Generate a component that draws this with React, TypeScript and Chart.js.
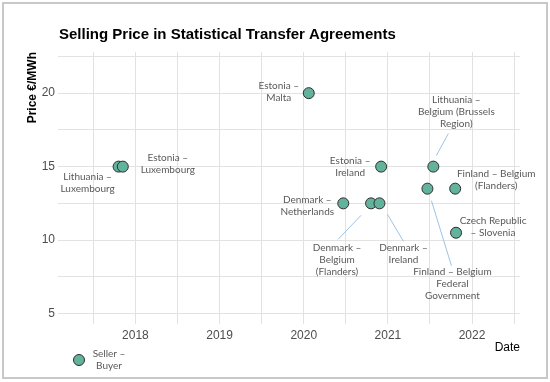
import { useEffect, useRef } from "react";
import { Chart, registerables } from "chart.js";

Chart.register(...registerables);

// ---- data ----
const agreementLabels: string[][] = [
  ["Lithuania –", "Luxembourg"],
  ["Estonia –", "Luxembourg"],
  ["Estonia –", "Malta"],
  ["Estonia –", "Ireland"],
  ["Lithuania –", "Belgium (Brussels", "Region)"],
  ["Finland – Belgium", "Federal", "Government"],
  ["Finland – Belgium", "(Flanders)"],
  ["Denmark –", "Netherlands"],
  ["Denmark –", "Belgium", "(Flanders)"],
  ["Denmark –", "Ireland"],
  ["Czech Republic", "– Slovenia"],
];
const agreementDates = [2017.8, 2017.85, 2020.06, 2020.92, 2021.54, 2021.47, 2021.8, 2020.47, 2020.8, 2020.9, 2021.81];
const sellingPrices = [15, 15, 20, 15, 15, 13.5, 13.5, 12.5, 12.5, 12.5, 10.5];

const xGridValues = [2017.5, 2018, 2018.5, 2019, 2019.5, 2020, 2020.5, 2021, 2021.5, 2022, 2022.5];
const yGridValues = [5, 7.5, 10, 12.5, 15, 17.5, 20, 22.5];

const chartTitle = "Selling Price in Statistical Transfer Agreements";
const yTitle = "Price €/MWh";
const xTitle = "Date";
const legendLines = ["Seller –", "Buyer"];

// ---- layout / style (label placement relative to each point, in px) ----
const labelPlacement = [
  { dx: -31, dy: 10 },
  { dx: 45, dy: -9 },
  { dx: -30, dy: -7 },
  { dx: -31, dy: -6 },
  { dx: 23, dy: -67 },
  { dx: 25, dy: 83 },
  { dx: 41, dy: -15 },
  { dx: -36, dy: -4 },
  { dx: -34, dy: 44 },
  { dx: 24, dy: 44 },
  { dx: 37, dy: -12 },
];
const leaderLines: (number[] | null)[] = [
  null, null, null, null,
  [15, -33, 3, -11],
  [4, 12, 24, 77],
  null, null,
  [-10, 12, -33, 36],
  [8, 11, 24, 38],
  null,
];

const POINT_FILL = "#63b39c";
const POINT_EDGE = "#2e2e2e";
const LABEL_FONT = "10px Lato";
const LABEL_COLOR = "#595959";
const LINE_H = 12;

const decorPlugin = {
  id: "decor",
  beforeDraw(chart: any) {
    const ctx = chart.ctx;
    ctx.save();
    ctx.fillStyle = "#ffffff";
    ctx.fillRect(0, 0, chart.width, chart.height);
    ctx.strokeStyle = "#c8c8c8";
    ctx.lineWidth = 2;
    ctx.strokeRect(3, 3, chart.width - 6, chart.height - 7);
    ctx.fillStyle = "#000";
    ctx.font = "bold 15px 'Liberation Sans'";
    ctx.textBaseline = "middle";
    ctx.textAlign = "left";
    ctx.fillText(chartTitle, chart.chartArea.left + 1, 35);
    ctx.restore();
  },
  beforeDatasetsDraw(chart: any) {
    const ctx = chart.ctx;
    const meta = chart.getDatasetMeta(0);
    ctx.save();
    ctx.strokeStyle = "#9dc3e6";
    ctx.lineWidth = 1;
    meta.data.forEach((el: any, i: number) => {
      const l = leaderLines[i];
      if (!l) return;
      ctx.beginPath();
      ctx.moveTo(el.x + l[0], el.y + l[1]);
      ctx.lineTo(el.x + l[2], el.y + l[3]);
      ctx.stroke();
    });
    ctx.restore();
  },
  afterDatasetsDraw(chart: any) {
    const ctx = chart.ctx;
    const meta = chart.getDatasetMeta(0);
    ctx.save();
    ctx.font = LABEL_FONT;
    ctx.fillStyle = LABEL_COLOR;
    ctx.textAlign = "center";
    ctx.textBaseline = "middle";
    meta.data.forEach((el: any, i: number) => {
      const p = labelPlacement[i];
      agreementLabels[i].forEach((line, k) => {
        ctx.fillText(line, el.x + p.dx, el.y + p.dy + k * LINE_H);
      });
    });
    // legend
    const lx = 79, ly = 360;
    ctx.beginPath();
    ctx.arc(lx, ly, 5.5, 0, Math.PI * 2);
    ctx.fillStyle = POINT_FILL;
    ctx.fill();
    ctx.strokeStyle = POINT_EDGE;
    ctx.lineWidth = 1;
    ctx.stroke();
    ctx.fillStyle = LABEL_COLOR;
    legendLines.forEach((line, k) => {
      ctx.fillText(line, 109, 354 + k * LINE_H);
    });
    ctx.restore();
  },
};

export default function App() {
  const ref = useRef<HTMLCanvasElement>(null);
  useEffect(() => {
    document.body.style.margin = "0";
    if (!ref.current) return;
    const chart = new Chart(ref.current, {
      type: "scatter",
      data: {
        datasets: [
          {
            data: agreementDates.map((d, i) => ({ x: d, y: sellingPrices[i] })),
            backgroundColor: POINT_FILL,
            borderColor: POINT_EDGE,
            borderWidth: 1,
            pointRadius: 5.5,
            pointHoverRadius: 5.5,
          },
        ],
      },
      options: {
        animation: false,
        responsive: false,
        devicePixelRatio: 1,
        layout: { padding: { left: 20, right: 30, top: 52, bottom: 0 } },
        plugins: { legend: { display: false }, tooltip: { enabled: false }, title: { display: false } },
        scales: {
          x: {
            type: "linear",
            min: 2017.08,
            max: 2022.57,
            afterBuildTicks: (axis: any) => {
              axis.ticks = xGridValues.map((v) => ({ value: v }));
            },
            afterFit: (s: any) => {
              s.height = 58;
            },
            grid: { color: "#e2e2e2", lineWidth: 1, drawTicks: false },
            border: { display: false },
            ticks: {
              autoSkip: false,
              maxRotation: 0,
              padding: 4,
              color: "#4d4d4d",
              font: { family: "'Liberation Sans'", size: 12 },
              callback: (v: any) => (Number.isInteger(v) ? String(v) : ""),
            },
            title: {
              display: true,
              text: xTitle,
              align: "end",
              color: "#000",
              font: { family: "'Liberation Sans'", size: 12 },
              padding: { top: 4, bottom: 27 },
            },
          },
          y: {
            min: 4.29,
            max: 22.8,
            afterBuildTicks: (axis: any) => {
              axis.ticks = yGridValues.map((v) => ({ value: v }));
            },
            afterFit: (s: any) => {
              s.width = 38;
            },
            grid: { color: "#e2e2e2", lineWidth: 1, drawTicks: false },
            border: { display: false },
            ticks: {
              autoSkip: false,
              padding: 3,
              color: "#4d4d4d",
              font: { family: "'Liberation Sans'", size: 12 },
              callback: (v: any) => (v % 5 === 0 ? String(v) : ""),
            },
            title: {
              display: true,
              text: yTitle,
              align: "end",
              color: "#000",
              font: { family: "'Liberation Sans'", size: 12, weight: "bold" },
              padding: { top: 5, bottom: 0 },
            },
          },
        },
      },
      plugins: [decorPlugin],
    } as any);
    return () => chart.destroy();
  }, []);
  return (
    <div style={{ width: 550, height: 382 }}>
      <canvas ref={ref} width={550} height={382} />
    </div>
  );
}
